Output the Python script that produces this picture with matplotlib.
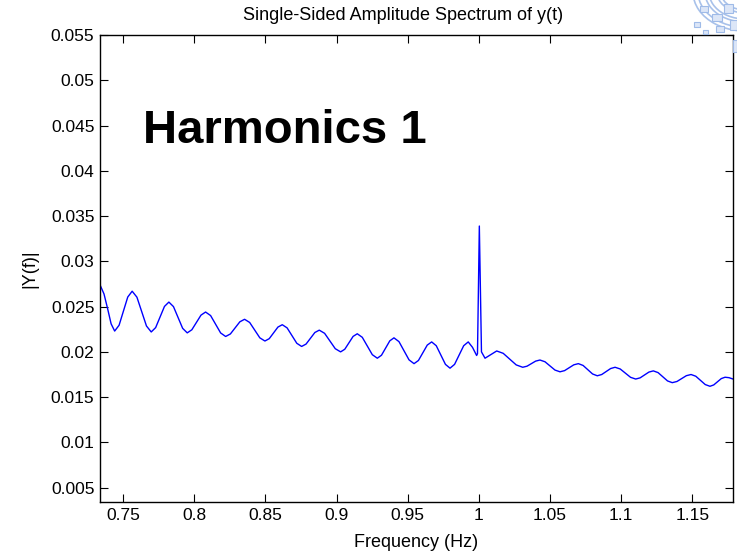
import matplotlib
matplotlib.use("Agg")
import matplotlib.pyplot as plt
from matplotlib.patches import Wedge, Rectangle

freq = [0.7337, 0.7365, 0.7390, 0.7415, 0.7440,
        0.7471, 0.75015, 0.7532, 0.7563,
        0.75965, 0.7630, 0.76635, 0.7697,
        0.7728, 0.7759, 0.7790, 0.7821,
        0.78533, 0.78855, 0.79178, 0.7950,
        0.79823, 0.80145, 0.80468, 0.8079,
        0.81143, 0.81495, 0.81848, 0.8220,
        0.82533, 0.82865, 0.83198, 0.8353,
        0.83888, 0.84245, 0.84603, 0.8496,
        0.85265, 0.8557, 0.85875, 0.8618,
        0.8652, 0.8686, 0.8720, 0.8754,
        0.8785, 0.8816, 0.8847, 0.8878,
        0.89155, 0.8953, 0.89905, 0.9028,
        0.90573, 0.90865, 0.91158, 0.9145,
        0.91803, 0.92155, 0.92508, 0.9286,
        0.93153, 0.93445, 0.93738, 0.9403,
        0.94383, 0.94735, 0.95088, 0.9544,
        0.9575, 0.9606, 0.9637, 0.9668,
        0.97003, 0.97325, 0.97648, 0.9797,
        0.9829, 0.9861, 0.9893, 0.9925,
        0.9955, 0.9984, 0.9990, 1.0003, 1.0018, 1.0043,
        1.0084, 1.0125,
        1.01708, 1.02165, 1.02623, 1.0308,
        1.03383, 1.03685, 1.03988, 1.0429,
        1.04643, 1.04995, 1.05348, 1.0570,
        1.06023, 1.06345, 1.06668, 1.0699,
        1.07323, 1.07655, 1.07988, 1.0832,
        1.08633, 1.08945, 1.09258, 1.0957,
        1.09933, 1.10295, 1.10658, 1.1102,
        1.1133, 1.1164, 1.1195, 1.1226,
        1.12593, 1.12925, 1.13258, 1.1359,
        1.1392, 1.1425, 1.1458, 1.1491,
        1.15243, 1.15575, 1.15908, 1.1624,
        1.16505, 1.1677, 1.17035, 1.1730,
        1.1758, 1.1786]
amp = [0.0274, 0.0264, 0.0248, 0.0231, 0.0223,
       0.02294, 0.0245, 0.02606, 0.0267,
       0.02604, 0.02445, 0.02286, 0.0222,
       0.02268, 0.02385, 0.02502, 0.0255,
       0.0250, 0.0238, 0.0226, 0.0221,
       0.02244, 0.02325, 0.02406, 0.0244,
       0.02401, 0.02305, 0.02209, 0.0217,
       0.02198, 0.02265, 0.02332, 0.0236,
       0.02325, 0.0224, 0.02155, 0.0212,
       0.02146, 0.0221, 0.02274, 0.0230,
       0.02265, 0.0218, 0.02095, 0.0206,
       0.02086, 0.0215, 0.02214, 0.0224,
       0.02205, 0.0212, 0.02035, 0.0200,
       0.02029, 0.0210, 0.02171, 0.0220,
       0.02161, 0.02065, 0.01969, 0.0193,
       0.01963, 0.02043, 0.02122, 0.02155,
       0.02113, 0.02013, 0.01912, 0.0187,
       0.01905, 0.0199, 0.02075, 0.0211,
       0.02068, 0.01965, 0.01862, 0.0182,
       0.01862, 0.01965, 0.02068, 0.0211,
       0.0205, 0.0196, 0.0198, 0.0339, 0.0200, 0.0193,
       0.0197, 0.0201,
       0.01984, 0.0192, 0.01856, 0.0183,
       0.01842, 0.0187, 0.01898, 0.0191,
       0.01891, 0.01845, 0.01799, 0.0178,
       0.01793, 0.01825, 0.01857, 0.0187,
       0.0185, 0.01803, 0.01756, 0.01736,
       0.0175, 0.01783, 0.01816, 0.0183,
       0.01811, 0.01765, 0.01719, 0.0170,
       0.01713, 0.01745, 0.01777, 0.0179,
       0.01771, 0.01725, 0.01679, 0.0166,
       0.01673, 0.01705, 0.01737, 0.0175,
       0.01731, 0.01685, 0.01639, 0.0162,
       0.01635, 0.0167, 0.01705, 0.0172,
       0.01715, 0.0170]

xticks = [0.75, 0.8, 0.85, 0.9, 0.95, 1.0, 1.05, 1.1, 1.15]
xticklabels = ["0.75", "0.8", "0.85", "0.9", "0.95", "1", "1.05", "1.1", "1.15"]
yticks = [0.005, 0.01, 0.015, 0.02, 0.025, 0.03, 0.035, 0.04, 0.045, 0.05, 0.055]
yticklabels = ["0.005", "0.01", "0.015", "0.02", "0.025", "0.03", "0.035",
               "0.04", "0.045", "0.05", "0.055"]

plt.rcParams['font.family'] = ['Liberation Sans', 'DejaVu Sans']

fig = plt.figure(figsize=(7.37, 5.52), dpi=100)

# faint logo watermark in the top-right corner (decorative)
W, H = 737.0, 552.0
logo_c = '#9fbbe8'
for r, w in [(52, 5), (40, 4), (28, 4)]:
    fig.patches.append(Wedge((745 / W, 1 + 8 / H), r / W, 180, 290, width=w / W,
                             transform=fig.transFigure, facecolor='none',
                             edgecolor=logo_c, lw=1.2, alpha=0.9))
for (x0, y0, w0, h0) in [(700, 6, 8, 6), (712, 14, 10, 7), (724, 4, 9, 9),
                         (694, 22, 6, 5), (716, 26, 8, 6), (730, 20, 7, 10),
                         (703, 30, 5, 4), (733, 40, 4, 12)]:
    fig.patches.append(Rectangle((x0 / W, 1 - (y0 + h0) / H), w0 / W, h0 / H,
                                 transform=fig.transFigure, facecolor='#dce6f7',
                                 edgecolor=logo_c, lw=0.8))

ax = fig.add_axes([0.1357, 0.0906, 0.8589, 0.846])
ax.patch.set_alpha(1.0)
ax.plot(freq, amp, color=(0, 0, 1), lw=1.0)
ax.set_xlim(0.7337, 1.1786)
ax.set_ylim(0.00342, 0.055)
ax.set_xticks(xticks)
ax.set_xticklabels(xticklabels)
ax.set_yticks(yticks)
ax.set_yticklabels(yticklabels)
ax.tick_params(direction='in', length=6, width=0.8, top=True, right=True,
               labelsize=12.5, pad=4)
for s in ax.spines.values():
    s.set_linewidth(1.0)
fig.text(403 / 737, 1 - 20 / 552, "Single-Sided Amplitude Spectrum of y(t)",
         fontsize=13, ha='center', va='baseline')
ax.set_xlabel("Frequency (Hz)", fontsize=13, labelpad=8)
ax.set_ylabel("|Y(f)|", fontsize=13, labelpad=9)
ax.text(0.068, 0.769, "Harmonics 1", transform=ax.transAxes, fontsize=34,
        fontweight='bold', va='baseline', ha='left')

fig.savefig("out.png", dpi=100)
